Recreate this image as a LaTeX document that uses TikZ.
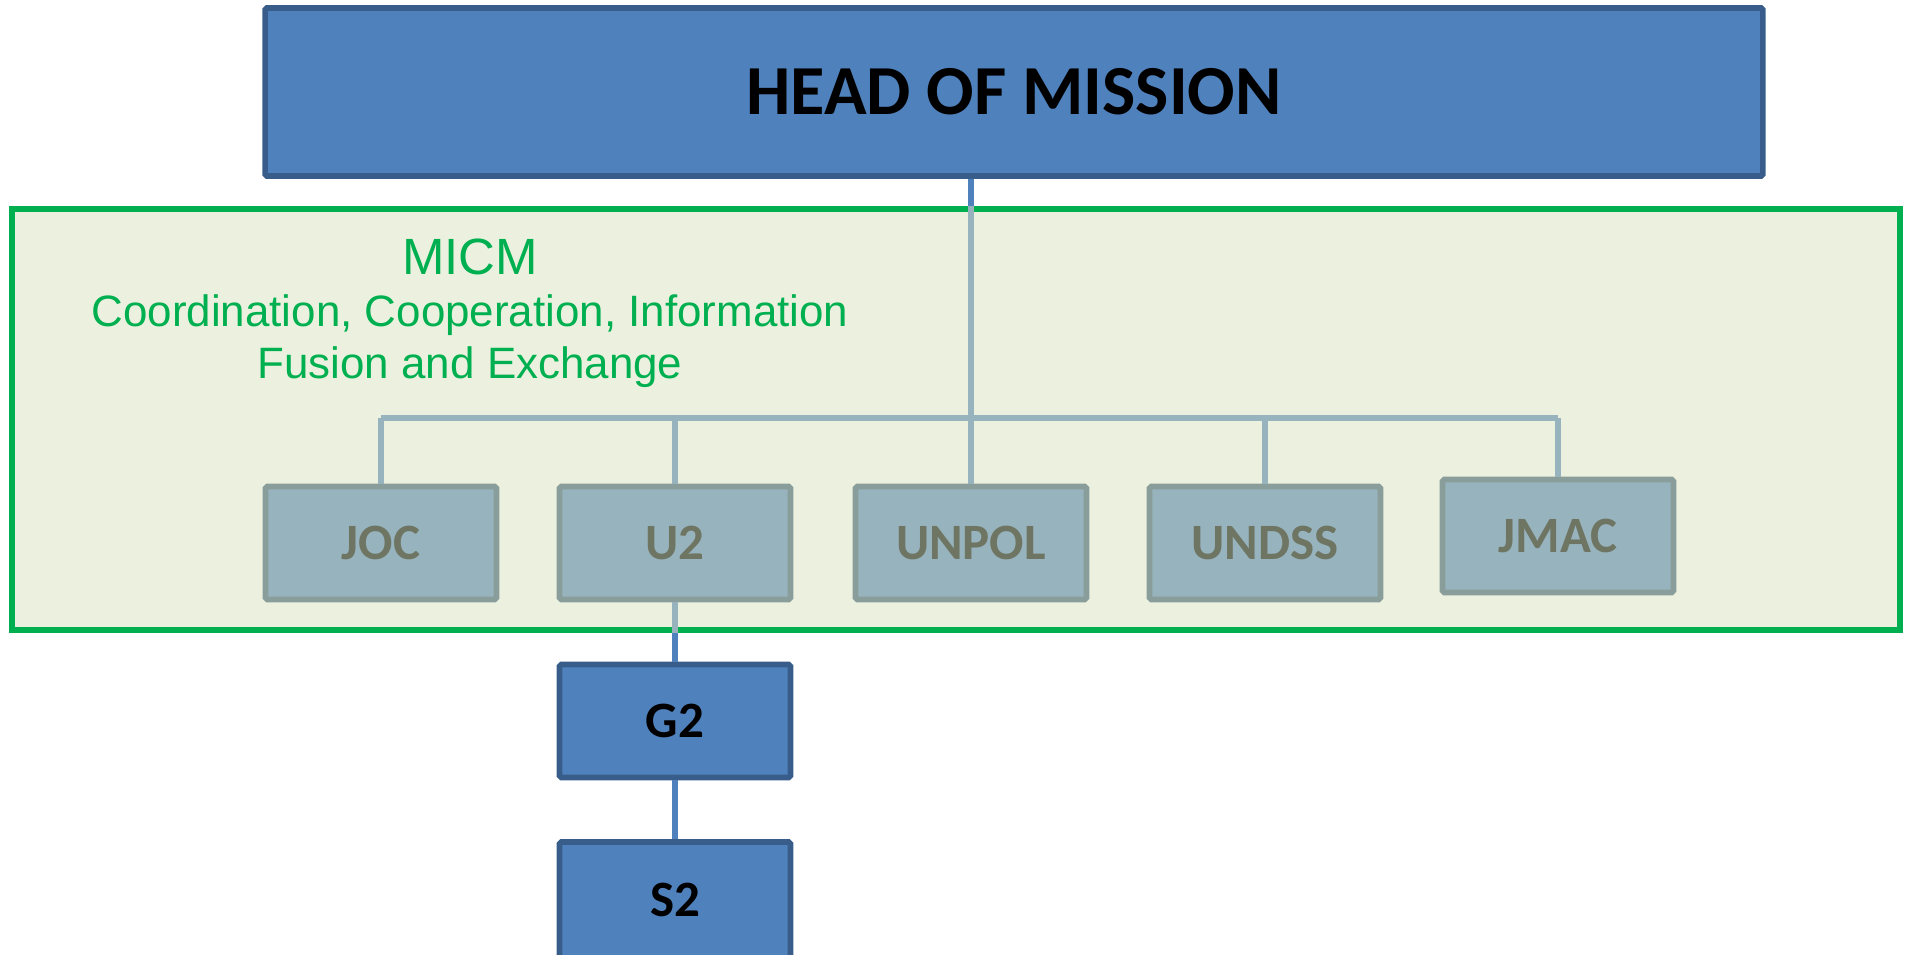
\documentclass[tikz,border=0pt]{standalone}
\usepackage{fontspec}
\setmainfont{Liberation Sans}
\newfontfamily\arialfont{Liberation Sans}
\newfontfamily\calibri{Carlito}
\usetikzlibrary{positioning,calc}
\definecolor{missionblue}{RGB}{79,129,189}
\definecolor{missionedge}{RGB}{56,93,138}
\definecolor{micmgreen}{RGB}{0,176,80}
\definecolor{micmfill}{RGB}{235,241,222}
\definecolor{unitgray}{RGB}{151,179,189}
\definecolor{unitedge}{RGB}{137,157,155}
\definecolor{unittext}{RGB}{111,117,99}

\begin{document}
\begin{tikzpicture}[x=0.02cm, y=-0.02cm,
    bluebox/.style={draw=missionedge, fill=missionblue, line width=3.2pt, rounded corners=1pt, minimum width=4.62cm, minimum height=2.26cm, font=\calibri\bfseries\fontsize{29}{32}\selectfont},
    unitbox/.style={draw=unitedge, fill=unitgray, text=unittext, line width=3.2pt, rounded corners=1pt, minimum width=4.62cm, minimum height=2.26cm, font=\calibri\bfseries\fontsize{29}{32}\selectfont},
    graylink/.style={draw=unitgray, line width=3.4pt},
    bluelink/.style={draw=missionblue, line width=3.4pt}]
    \useasboundingbox (0,0) rectangle (1906,955);
    \clip (0,0) rectangle (1906,955);

    % MICM area
    \node[draw=micmgreen, fill=micmfill, line width=3.4pt, minimum width=37.76cm, minimum height=8.42cm] (micm) at (956,419.5) {};
    \node[text=micmgreen, font=\arialfont\fontsize{29}{34}\selectfont] (micmtitle) at (470,257) {MICM};
    \node[text=micmgreen, font=\arialfont\fontsize{25}{29.5}\selectfont, align=center] (micmtext) at (470,341) {Coordination, Cooperation, Information\\Fusion and Exchange};

    % Head of mission
    \node[bluebox, minimum width=29.96cm, minimum height=3.36cm, font=\calibri\bfseries\fontsize{40}{46}\selectfont] (hom) at (1014,92) {HEAD OF MISSION};

    % Units inside the MICM
    \node[unitbox] (joc) at (381,543) {JOC};
    \node[unitbox] (u2) at (675,543) {U2};
    \node[unitbox] (unpol) at (971,543) {UNPOL};
    \node[unitbox] (undss) at (1265,543) {UNDSS};
    \node[unitbox] (jmac) at (1558,536) {JMAC};

    % Military branch
    \node[bluebox] (g2) at (675,721) {G2};
    \node[bluebox, minimum height=2.8cm] (s2) at (675,912) {};
    \node[font=\calibri\bfseries\fontsize{29}{32}\selectfont] (s2label) at (675,900) {S2};

    % Connectors
    \coordinate (bus) at (0,418);
    \draw[bluelink] (unpol.north |- hom.south) -- (unpol.north |- micm.north);
    \draw[graylink] (unpol.north |- micm.north) -- (unpol.north);
    \draw[graylink] (joc.north |- bus) -- (jmac.north |- bus);
    \foreach \u in {joc,u2,undss,jmac}
        \draw[graylink] (\u.north |- bus) -- (\u.north);
    \draw[graylink] (u2.south) -- (u2.south |- micm.south);
    \draw[bluelink] (u2.south |- micm.south) -- (g2.north);
    \draw[bluelink] (g2.south) -- (s2.north);
\end{tikzpicture}
\end{document}
